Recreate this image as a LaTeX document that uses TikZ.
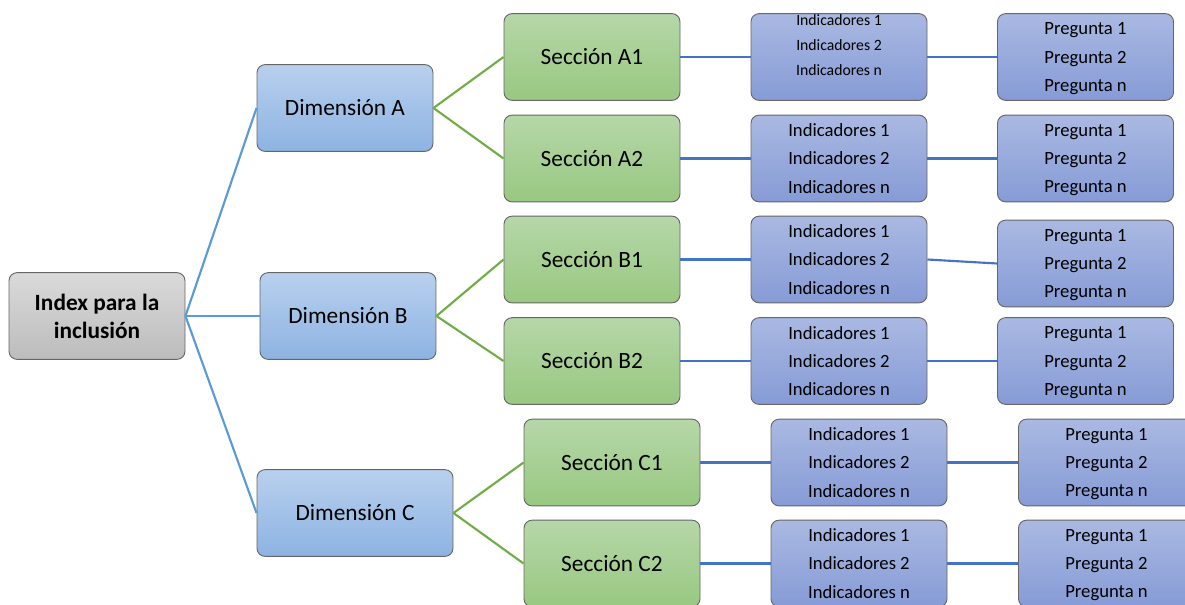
\documentclass[tikz,border=0pt]{standalone}
\usepackage{fontspec}
\setmainfont{Carlito}

\definecolor{gris1}{HTML}{DADADA}
\definecolor{gris2}{HTML}{BCBCBC}
\definecolor{azul1}{HTML}{B8D0EE}
\definecolor{azul2}{HTML}{8DB3E2}
\definecolor{verde1}{HTML}{B6D7A8}
\definecolor{verde2}{HTML}{98C881}
\definecolor{lila1}{HTML}{AAB9E2}
\definecolor{lila2}{HTML}{869BD6}
\definecolor{borde}{HTML}{666666}
\definecolor{ramaA}{HTML}{5B9BD5}
\definecolor{ramaB}{HTML}{70AD47}
\definecolor{ramaC}{HTML}{4472C4}

\tikzset{
	caja/.style={draw=borde, line width=0.7pt, rounded corners=6pt, minimum width=132pt, minimum height=65pt, inner sep=0pt, align=center, font=\fontsize{17.5}{21}\selectfont},
	raiz/.style={caja, top color=gris1, bottom color=gris2, font=\bfseries\fontsize{17.5}{21}\selectfont},
	dim/.style={caja, top color=azul1, bottom color=azul2},
	sec/.style={caja, top color=verde1, bottom color=verde2},
	lista/.style={caja, top color=lila1, bottom color=lila2, font=\fontsize{14}{21.3}\selectfont},
	lineaA/.style={ramaA, line width=1.6pt},
	lineaB/.style={ramaB, line width=1.6pt},
	lineaC/.style={ramaC, line width=1.6pt}
}

\newcommand{\indic}{Indicadores 1\\Indicadores 2\\Indicadores n}
\newcommand{\pregs}{Pregunta 1\\Pregunta 2\\\raisebox{0pt}[\height][0pt]{Pregunta n}}

\begin{document}
\begin{tikzpicture}[x=0.75pt, y=-0.75pt]
	\useasboundingbox (0,0) rectangle (1185,604);
	\clip (0,0) rectangle (1185,604);

	\node [raiz] (index) at (97,316) {Index para la\\inclusión};

	\node [dim] (dimA) at (345,108) {Dimensión A};
	\node [dim] (dimB) at (348,316) {Dimensión B};
	\node [dim, minimum width=147pt] (dimC) at (355,513) {Dimensión C};

	\node [sec] (secA1) at (592,57) {Sección A1};
	\node [sec] (secA2) at (592,158.5) {Sección A2};
	\node [sec] (secB1) at (592,259.5) {Sección B1};
	\node [sec] (secB2) at (592,361) {Sección B2};
	\node [sec] (secC1) at (612,462.5) {Sección C1};
	\node [sec] (secC2) at (612,563.5) {Sección C2};

	% primera caja con letra mas chica y texto arriba
	\node [lista] (indA1) at (839,57) {};
	\node [font=\fontsize{11.8}{18.75}\selectfont, align=center] (indA1txt) at (839,45) {\indic};
	\node [lista] (indA2) at (839,158.5) {\indic};
	\node [lista] (indB1) at (839,259.5) {\indic};
	\node [lista] (indB2) at (839,361) {\indic};
	\node [lista] (indC1) at (859,462.5) {\indic};
	\node [lista] (indC2) at (859,563.5) {\indic};

	\node [lista] (preA1) at (1085.5,57) {\pregs};
	\node [lista] (preA2) at (1085.5,158.5) {\pregs};
	\node [lista] (preB1) at (1085.5,263.5) {\pregs};
	\node [lista] (preB2) at (1085.5,361) {\pregs};
	\node [lista] (preC1) at (1106.5,462.5) {\pregs};
	\node [lista] (preC2) at (1106.5,563.5) {\pregs};

	\draw [lineaA] (index.east) -- (dimA.west);
	\draw [lineaA] (index.east) -- (dimB.west);
	\draw [lineaA] (index.east) -- (dimC.west);

	\foreach \d/\s in {A/A1, A/A2, B/B1, B/B2, C/C1, C/C2}
		\draw [lineaB] (dim\d.east) -- (sec\s.west);

	\foreach \s in {A1, A2, B1, B2, C1, C2} {
		\draw [lineaC] (sec\s.east) -- (ind\s.west);
		\draw [lineaC] (ind\s.east) -- (pre\s.west);
	}
\end{tikzpicture}
\end{document}
